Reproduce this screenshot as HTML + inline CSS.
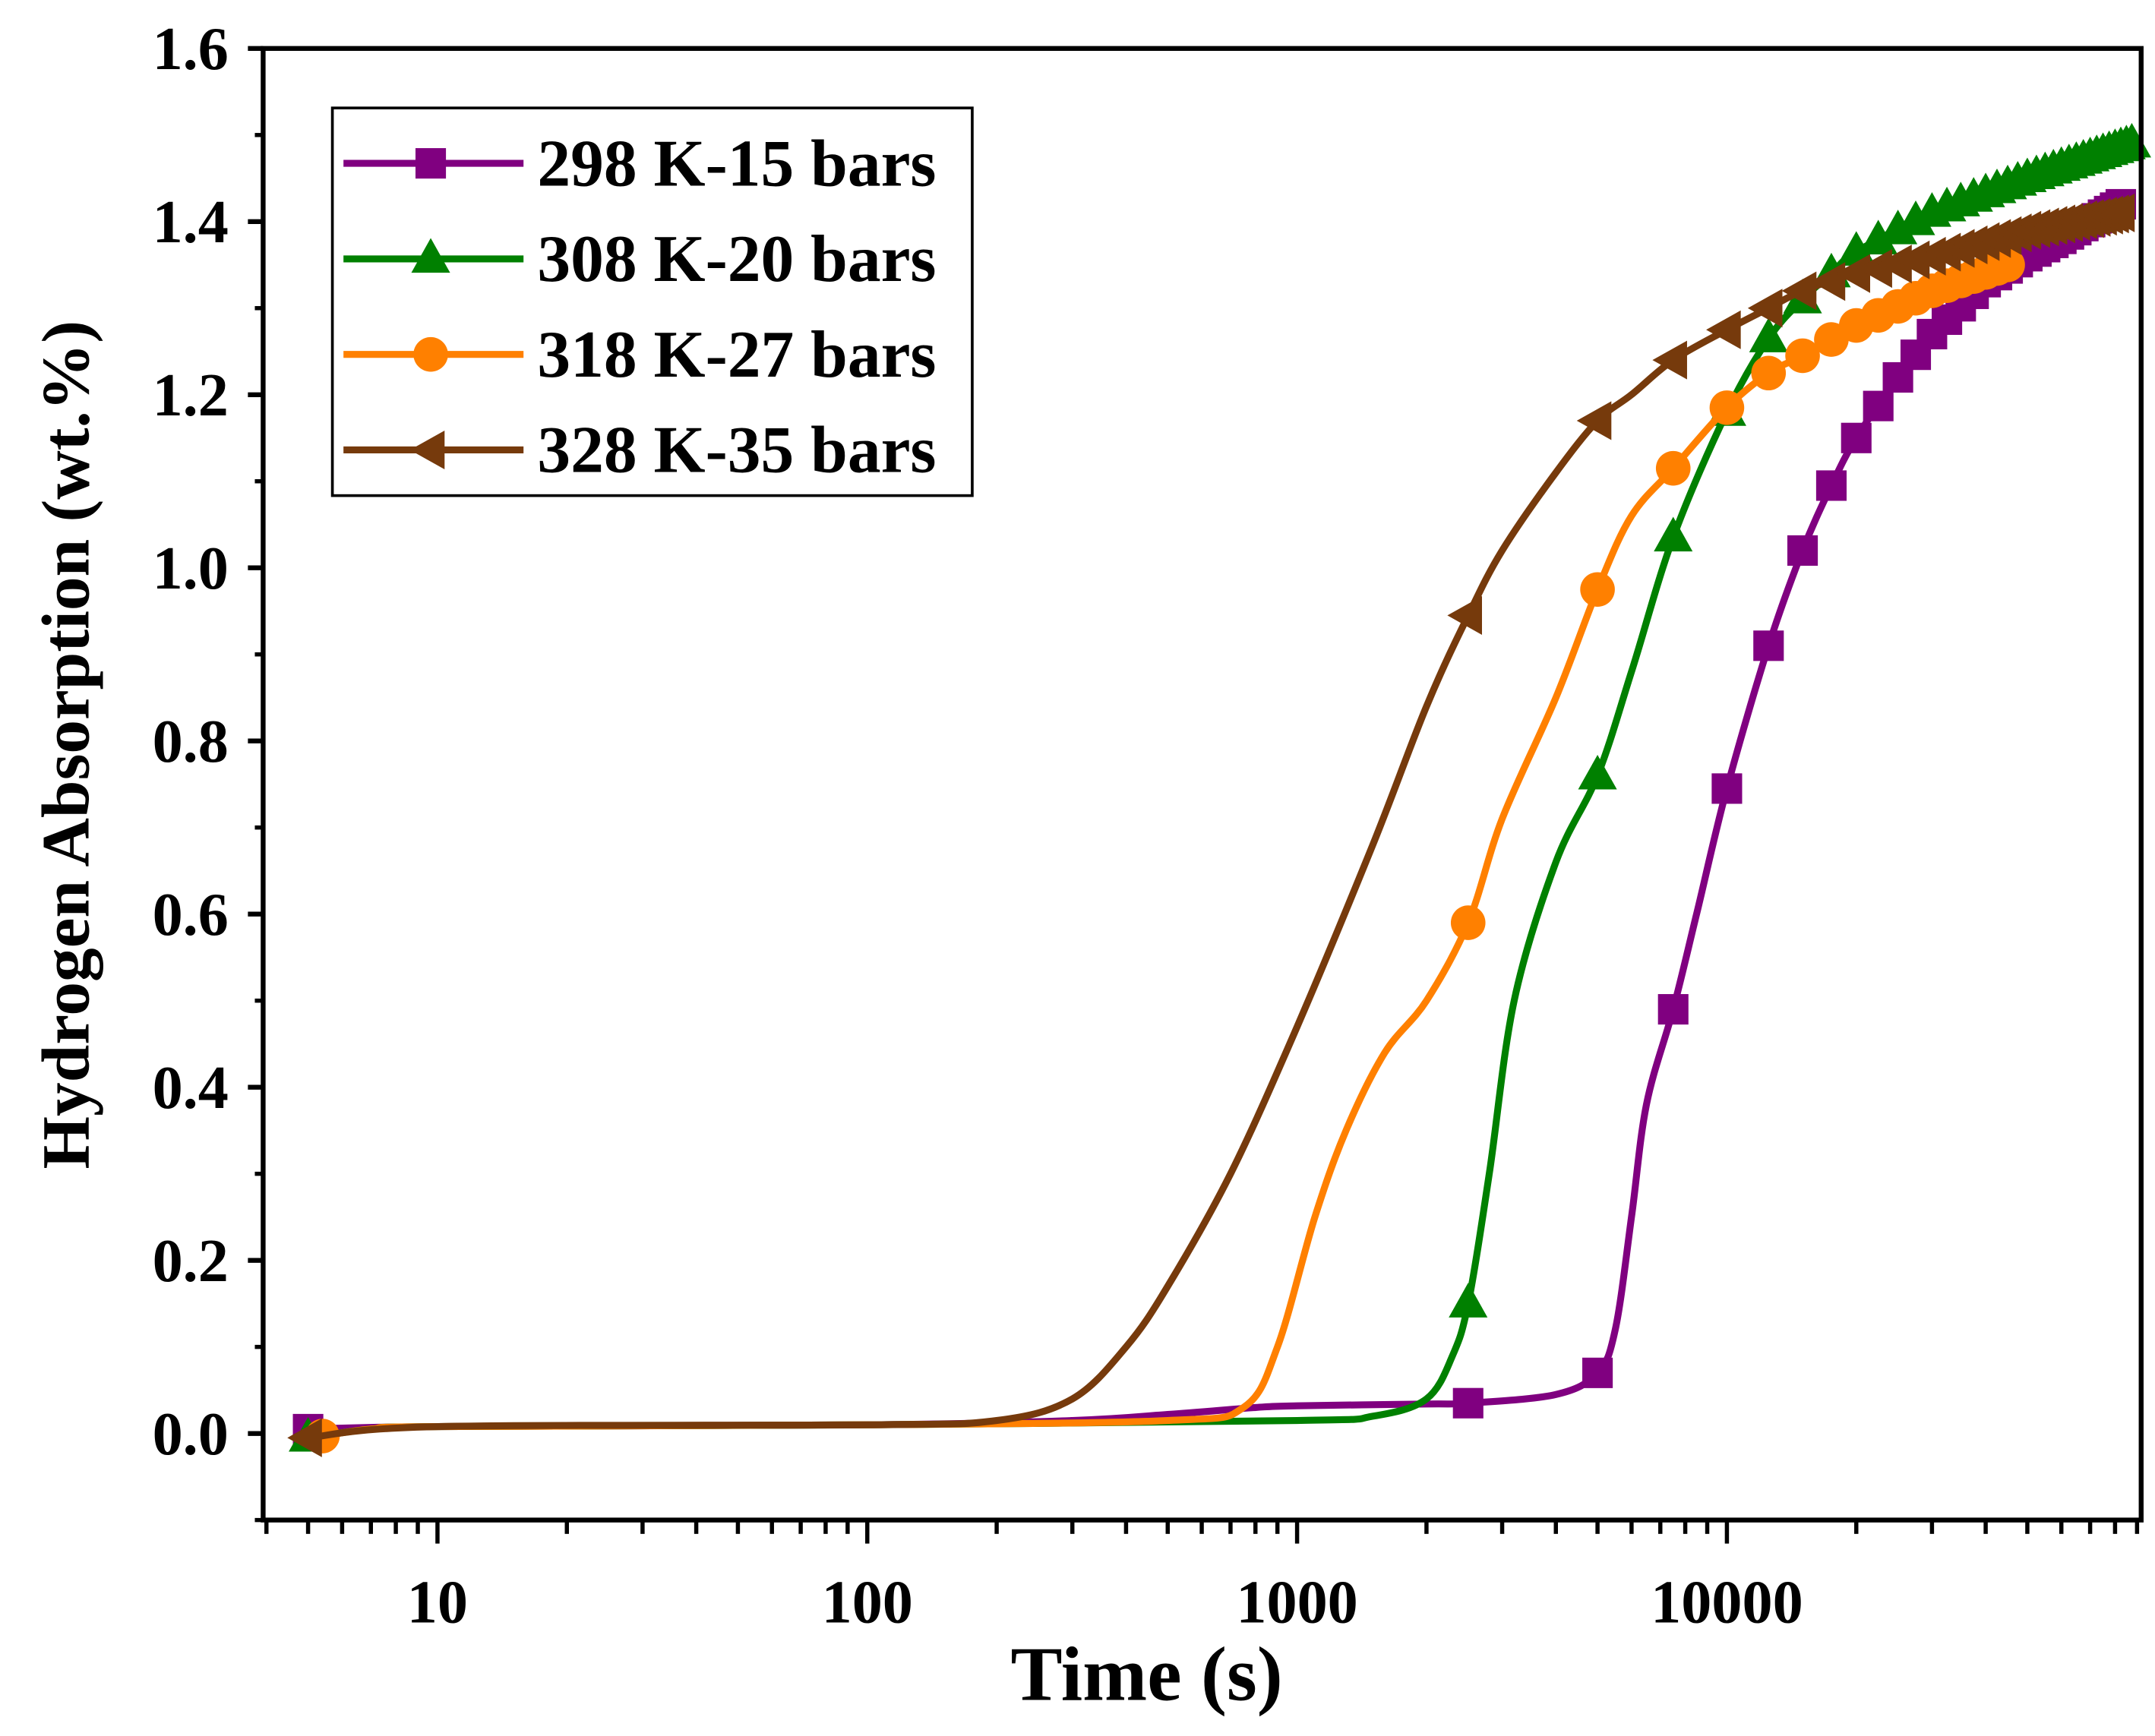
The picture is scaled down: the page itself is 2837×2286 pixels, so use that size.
<!DOCTYPE html>
<html><head><meta charset="utf-8"><style>
html,body{margin:0;padding:0;background:#fff;}
svg{display:block;}
text{font-family:"Liberation Serif","Times New Roman",serif;font-weight:bold;fill:#000;}
</style></head><body>
<svg id="chart" width="2837" height="2286" viewBox="0 0 1556 1254" preserveAspectRatio="none" xmlns="http://www.w3.org/2000/svg">
<rect x="0" y="0" width="1556" height="1254" fill="#fff"/>
<g id="plot"></g>
</svg>
<script>
const seriesNames = ["298 K-15 bars","308 K-20 bars","318 K-27 bars","328 K-35 bars"];
const seriesColors = ["#800080","#008000","#ff8000","#763a0c"];
const seriesMarkers = ["square","triangle","circle","left"];
const t298 = [5,10,100,300,500,800,1000,2000,2500,4000,5000,5500,6000,6500,7500,8500,10000,12500,15000,17500,20000,25000,30000,40000,50000,60000,82500];
const v298 = [0.005,0.008,0.01,0.015,0.022,0.03,0.032,0.034,0.035,0.045,0.07,0.12,0.25,0.38,0.49,0.6,0.745,0.91,1.02,1.095,1.15,1.22,1.27,1.33,1.36,1.38,1.42];
const t308 = [5,7,10,100,1000,1500,2000,2300,2500,2800,3200,4000,5000,6000,7500,10000,12500,15000,17500,20000,30000,50000,87500];
const v308 = [-0.005,0.005,0.008,0.01,0.015,0.02,0.04,0.09,0.15,0.3,0.5,0.66,0.76,0.88,1.035,1.18,1.265,1.31,1.34,1.365,1.41,1.45,1.49];
const t318 = [5.4,7,10,100,500,750,900,1100,1300,1600,2000,2500,3000,4000,5000,6000,7500,10000,12500,15000,20000,30000,45000];
const v318 = [-0.003,0.005,0.008,0.01,0.015,0.03,0.1,0.25,0.35,0.44,0.5,0.59,0.71,0.85,0.975,1.06,1.115,1.185,1.225,1.245,1.28,1.32,1.35];
const t328 = [5,10,100,200,300,400,500,700,1000,1500,2000,2500,3000,4000,5000,6000,7500,10000,12500,15000,20000,30000,50000,82500];
const v328 = [-0.005,0.008,0.01,0.015,0.04,0.1,0.17,0.3,0.47,0.68,0.84,0.945,1.02,1.11,1.17,1.2,1.24,1.275,1.3,1.32,1.34,1.36,1.39,1.41];
const markerStep = 2500;
const yTicks = [0.0,0.2,0.4,0.6,0.8,1.0,1.2,1.4,1.6];
const yTickLabels = ["0.0","0.2","0.4","0.6","0.8","1.0","1.2","1.4","1.6"];
const xTicks = [10,100,1000,10000];
const xTickLabels = ["10","100","1000","10000"];

const L=190,R=1546,T=35,B=1098;
const yMin=-0.1,yMax=1.6,xMin=3.93,xMax=92000;
function X(t){return L+(Math.log10(t)-Math.log10(xMin))/(Math.log10(xMax)-Math.log10(xMin))*(R-L);}
function Y(v){return B-(v-yMin)/(yMax-yMin)*(B-T);}
const NS="http://www.w3.org/2000/svg";
const g=document.getElementById('plot');
function mk(tag,attrs,parent){const e=document.createElementNS(NS,tag);for(const k in attrs)e.setAttribute(k,attrs[k]);(parent||g).appendChild(e);return e;}
function interp(ts,vs,t){
  const lt=Math.log10(t);
  for(let i=0;i<ts.length-1;i++){const a=Math.log10(ts[i]),b=Math.log10(ts[i+1]);if(lt>=a&&lt<=b){return vs[i]+(vs[i+1]-vs[i])*(lt-a)/(b-a);}}
  return vs[vs.length-1];
}
function smoothPath(p){
  let d=`M${p[0][0].toFixed(1)},${p[0][1].toFixed(1)}`;
  for(let i=0;i<p.length-1;i++){
    const p0=p[i-1]||p[i],p1=p[i],p2=p[i+1],p3=p[i+2]||p[i+1];
    const c1=[p1[0]+(p2[0]-p0[0])/6,p1[1]+(p2[1]-p0[1])/6];
    const c2=[p2[0]-(p3[0]-p1[0])/6,p2[1]-(p3[1]-p1[1])/6];
    d+=` C${c1[0].toFixed(1)},${c1[1].toFixed(1)} ${c2[0].toFixed(1)},${c2[1].toFixed(1)} ${p2[0].toFixed(1)},${p2[1].toFixed(1)}`;
  }
  return d;
}
function marker(type,cx,cy,color,parent){
  let e;
  if(type==="square"){e=mk('rect',{x:cx-11,y:cy-11,width:22,height:22,fill:color},parent);}
  else if(type==="circle"){e=mk('circle',{cx:cx,cy:cy,r:12.5,fill:color},parent);}
  else if(type==="triangle"){e=mk('polygon',{points:`${cx},${cy-15} ${cx-14},${cy+10} ${cx+14},${cy+10}`,fill:color},parent);}
  else {e=mk('polygon',{points:`${cx-15},${cy} ${cx+10},${cy-14} ${cx+10},${cy+14}`,fill:color},parent);}
  return e;
}
const allT=[t298,t308,t318,t328], allV=[v298,v308,v318,v328];
for(let s=0;s<4;s++){
  const sg=mk('g',{});
  
  
  const ts=allT[s],vs=allV[s];
  const pts=ts.map((t,i)=>[X(t),Y(vs[i])]);
  const pl=mk('path',{d:smoothPath(pts),fill:'none',stroke:seriesColors[s],'stroke-width':5,'stroke-linejoin':'round'},sg);
  
  
  const mt=[ts[0]];
  for(let t=markerStep;t<=ts[ts.length-1];t+=markerStep)mt.push(t);
  mt.forEach(t=>{
    const m=marker(seriesMarkers[s],X(t),Y(interp(ts,vs,t)),seriesColors[s],sg);
    
    
  });
}
const fr=mk('rect',{x:L,y:T,width:R-L,height:B-T,fill:'none',stroke:'#000','stroke-width':3.5});


yTicks.forEach((v,i)=>{
  mk('line',{x1:L-11,x2:L,y1:Y(v),y2:Y(v),stroke:'#000','stroke-width':3.5});
  const tx=mk('text',{x:L-25,y:Y(v)+15,'text-anchor':'end','font-size':44});
  tx.textContent=yTickLabels[i];
  
  
});
for(let v=-0.1;v<1.6;v+=0.2){mk('line',{x1:L-6,x2:L,y1:Y(v),y2:Y(v),stroke:'#000','stroke-width':3});}
for(let d=1;d<=10000;d*=10){for(let k=1;k<10;k++){const t=d*k;if(t<xMin||t>xMax)continue;const maj=(k===1);
  mk('line',{x1:X(t),x2:X(t),y1:B,y2:B+(maj?17:10),stroke:'#000','stroke-width':3});}}
xTicks.forEach((t,i)=>{
  const tx=mk('text',{x:X(t),y:B+74,'text-anchor':'middle','font-size':44});
  tx.textContent=xTickLabels[i];
  
  
});
const xt=mk('text',{x:828,y:1228,'text-anchor':'middle','font-size':56});
xt.textContent='Time (s)';


const yt=mk('text',{x:0,y:0,'text-anchor':'middle','font-size':49,transform:'translate(64,538) rotate(-90)'});
yt.textContent='Hydrogen Absorption (wt.%)';


const lg=mk('g',{});


mk('rect',{x:240,y:78,width:462,height:280,fill:'#fff',stroke:'#000','stroke-width':2},lg);
for(let s=0;s<4;s++){
  const ly=118+s*69;
  const eg=mk('g',{},lg);
  
  
  mk('line',{x1:248,x2:378,y1:ly,y2:ly,stroke:seriesColors[s],'stroke-width':5},eg);
  marker(seriesMarkers[s],311,ly,seriesColors[s],eg);
  const tx=mk('text',{x:388,y:ly+16,'font-size':48},eg);
  tx.textContent=seriesNames[s];
}
</script>
</body></html>
